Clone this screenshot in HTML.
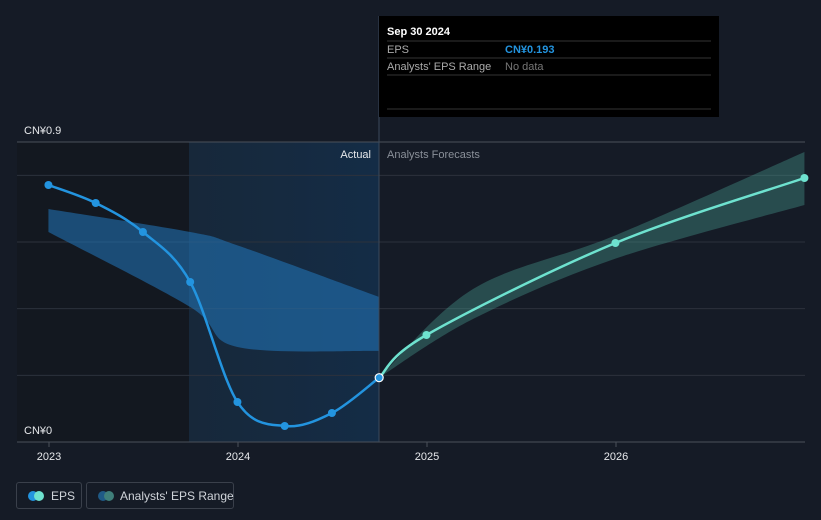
<!DOCTYPE html>
<html><head><meta charset="utf-8"><style>
body{margin:0;background:#151b26;font-family:"Liberation Sans",sans-serif;}
#wrap{position:relative;width:821px;height:520px;overflow:hidden;background:#151b26}
svg text{font-family:"Liberation Sans",sans-serif}
.leg{position:absolute;top:482px;height:27px;border:1px solid #3a404b;border-radius:3px;color:#d0d4da;font-size:12px;line-height:26px;box-sizing:border-box;white-space:nowrap}
.dot{position:absolute;top:8px;width:10px;height:10px;border-radius:5px}
</style></head><body>
<div id="wrap">
<svg id="svg" width="821" height="520"></svg>
<div class="leg" style="left:16px;width:66px"><span class="dot" style="left:11px;background:#2394df"></span><span class="dot" style="left:17px;background:#6ee2cf"></span><span style="position:absolute;left:34px">EPS</span></div>
<div class="leg" style="left:86px;width:148px"><span class="dot" style="left:11px;background:#1f5a86"></span><span class="dot" style="left:17px;background:#3f7f7a"></span><span style="position:absolute;left:33px">Analysts' EPS Range</span></div>
</div>
<script>
const epsDates=[2022.997,2023.247,2023.497,2023.747,2023.997,2024.247,2024.497,2024.747];
const epsValues=[0.771,0.717,0.63,0.48,0.12,0.048,0.087,0.193];
const fcDates=[2024.747,2024.997,2025.997,2026.997];
const fcValues=[0.193,0.321,0.597,0.792];
const pastRangeDates=[2022.997,2023.747,2023.997,2024.747];
const pastRangeHigh=[0.699,0.63,0.59,0.435];
const pastRangeLow=[0.63,0.405,0.285,0.273];
const fcRangeDates=[2024.747,2025.247,2025.997,2026.997];
const fcRangeHigh=[0.193,0.46,0.62,0.87];
const fcRangeLow=[0.193,0.37,0.55,0.711];
const yTicks=[0,0.2,0.4,0.6,0.8,0.9];
const xTicks=[2023,2024,2025,2026];
const X=d=>49+(d-2023)*189, Y=v=>442-v*300/0.9;
const s=document.getElementById('svg'),NS='http://www.w3.org/2000/svg';
function mk(t,a,name,txt){const e=document.createElementNS(NS,t);for(const k in a)e.setAttribute(k,a[k]);


if(txt!==undefined)e.textContent=txt;s.appendChild(e);return e;}
const defs=mk('defs',{},'defs');
defs.innerHTML='<linearGradient id="hg" x1="0" x2="1"><stop offset="0" stop-color="#17283a"/><stop offset="1" stop-color="#142c46"/></linearGradient>';
mk('rect',{x:17,y:142,width:172,height:300,fill:'#131820'},'past-shade');
mk('rect',{x:189,y:142,width:190,height:300,fill:'url(#hg)'},'highlight-shade');
yTicks.forEach(v=>{mk('line',{x1:17,x2:805,y1:Y(v),y2:Y(v),stroke:v==0.9||v==0?'#4a505a':'#2c323c','stroke-width':1},'gridline');});
mk('text',{x:24,y:134,fill:'#e6e8eb','font-size':11},'y-label-top','CN¥0.9');
mk('text',{x:24,y:434,fill:'#e6e8eb','font-size':11},'y-label-zero','CN¥0');
xTicks.forEach(t=>{mk('line',{x1:X(t),x2:X(t),y1:442,y2:447,stroke:'#4a505a'},'x-tick');
mk('text',{x:X(t),y:460,fill:'#e6e8eb','font-size':11,'text-anchor':'middle'},'x-tick-label',String(t));});
function smooth(pts){let d='M'+pts[0][0]+','+pts[0][1];for(let i=0;i<pts.length-1;i++){const p0=pts[i-1]||pts[i],p1=pts[i],p2=pts[i+1],p3=pts[i+2]||p2;
d+=` C${p1[0]+(p2[0]-p0[0])/6},${p1[1]+(p2[1]-p0[1])/6} ${p2[0]-(p3[0]-p1[0])/6},${p2[1]-(p3[1]-p1[1])/6} ${p2[0]},${p2[1]}`;}return d;}
function band(ds,hi,lo,fill,name){const up=ds.map((d,i)=>[X(d),Y(hi[i])]),dn=ds.map((d,i)=>[X(d),Y(lo[i])]).reverse();
mk('path',{d:smooth(up)+' L'+smooth(dn).slice(1)+'Z',fill:fill},name);}
band(pastRangeDates,pastRangeHigh,pastRangeLow,'rgba(35,120,190,0.55)','past-eps-range');
band(fcRangeDates,fcRangeHigh,fcRangeLow,'rgba(70,150,140,0.4)','forecast-eps-range');
mk('line',{x1:379,x2:379,y1:16,y2:442,stroke:'#3b4a5c'},'now-line');
mk('text',{x:371,y:158,fill:'#e6e8eb','font-size':11,'text-anchor':'end'},'actual-label','Actual');
mk('text',{x:387,y:158,fill:'#8a9099','font-size':11},'forecast-label','Analysts Forecasts');
mk('path',{d:smooth(epsDates.map((d,i)=>[X(d),Y(epsValues[i])])),fill:'none',stroke:'#2394df','stroke-width':2.5},'eps-line');
mk('path',{d:smooth(fcDates.map((d,i)=>[X(d),Y(fcValues[i])])),fill:'none',stroke:'#6ee2cf','stroke-width':2.5},'forecast-line');
epsDates.forEach((d,i)=>{const last=i==epsDates.length-1;mk('circle',{cx:X(d),cy:Y(epsValues[i]),r:4,fill:'#2394df',stroke:last?'#fff':'none','stroke-width':1.2},'eps-point');});
fcDates.slice(1).forEach((d,i)=>mk('circle',{cx:X(d),cy:Y(fcValues[i+1]),r:4,fill:'#6ee2cf'},'forecast-point'));
mk('rect',{x:379,y:16,width:340,height:101,fill:'#000'},'tooltip');
mk('text',{x:387,y:35,fill:'#fff','font-size':11,'font-weight':'bold'},'tooltip-date','Sep 30 2024');
mk('line',{x1:387,x2:711,y1:41,y2:41,stroke:'#333'},'tooltip-sep');
mk('text',{x:387,y:53,fill:'#aaa','font-size':11},'tooltip-eps-label','EPS');
mk('text',{x:505,y:53,fill:'#2394df','font-size':11,'font-weight':'bold'},'tooltip-eps-value','CN¥0.193');
mk('line',{x1:387,x2:711,y1:58,y2:58,stroke:'#333'},'tooltip-sep');
mk('text',{x:387,y:70,fill:'#aaa','font-size':11},'tooltip-range-label',"Analysts' EPS Range");
mk('text',{x:505,y:70,fill:'#777','font-size':11},'tooltip-range-value','No data');
mk('line',{x1:387,x2:711,y1:75,y2:75,stroke:'#333'},'tooltip-sep');
mk('line',{x1:387,x2:711,y1:109,y2:109,stroke:'#333'},'tooltip-sep');
</script>
</body></html>
